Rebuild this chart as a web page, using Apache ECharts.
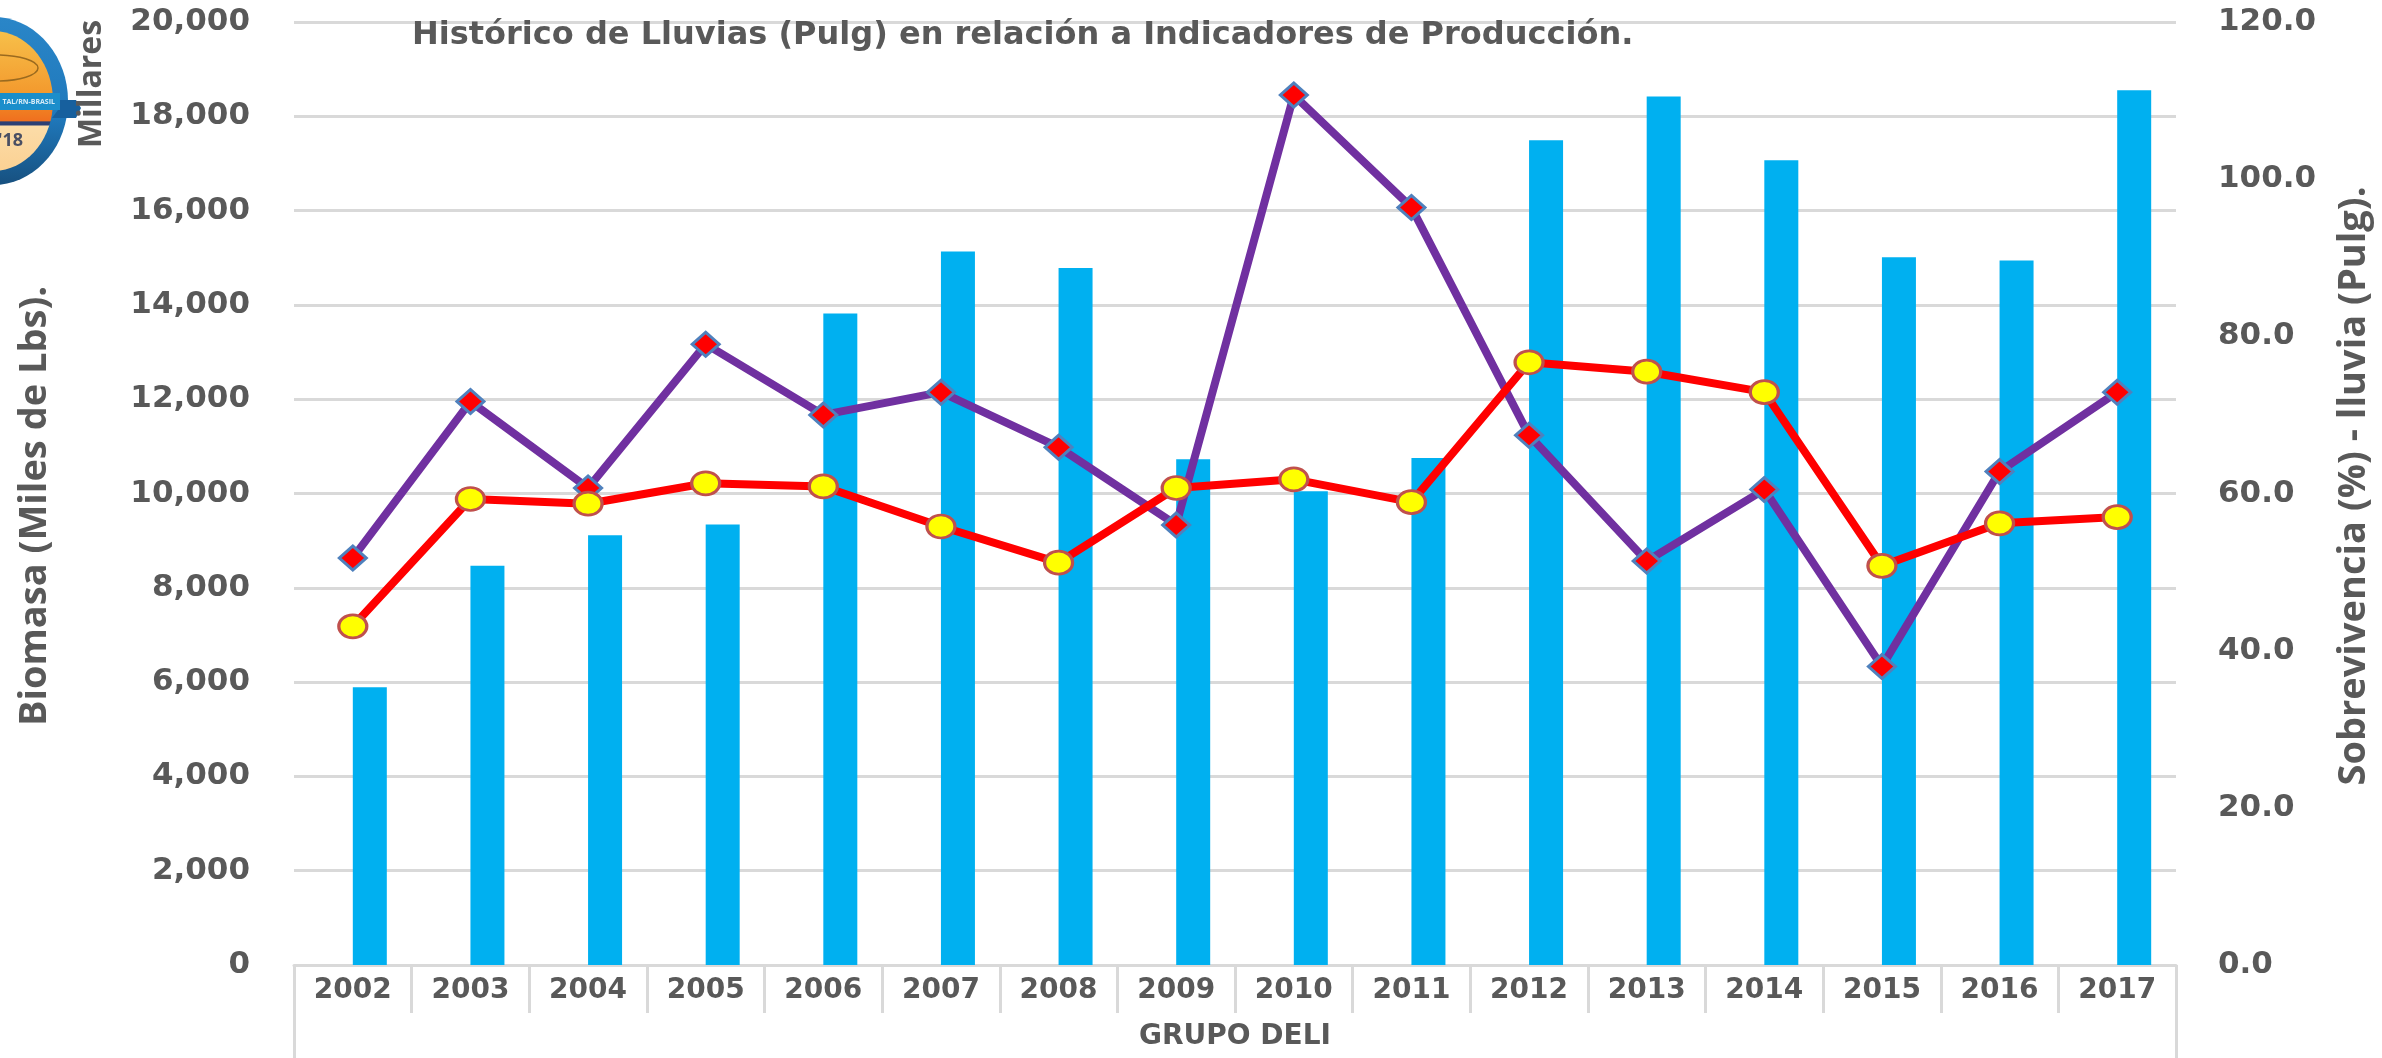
<!DOCTYPE html>
<html><head><meta charset="utf-8">
<style>html,body{margin:0;padding:0;background:#fff}#c{width:2382px;height:1058px}</style>
<script src="https://cdn.jsdelivr.net/npm/echarts@6/dist/echarts.min.js"></script>
</head><body><div id="c"></div>
<script>
const years=['2002','2003','2004','2005','2006','2007','2008','2009','2010','2011','2012','2013','2014','2015','2016','2017'];
const groupLabels=['GRUPO DELI'];
const biomasa=[5890,8470,9115,9340,13815,15135,14780,10725,10050,10755,17490,18420,17070,15010,14940,18550];
const sobrevivencia=[43.1,59.3,58.7,61.3,60.9,55.8,51.2,60.7,61.8,58.9,76.7,75.5,72.9,50.8,56.2,57.0];
const lluvia=[51.8,71.7,60.7,79.0,70.0,72.9,65.9,56.0,110.7,96.4,67.4,51.4,60.5,38.0,62.8,72.9];
const titleText='Histórico de Lluvias (Pulg) en relación a Indicadores de Producción.';
const gray='#595959', line='#d9d9d9';
const tickFont={color:gray,fontFamily:'DejaVu Sans',fontWeight:'bold',fontSize:31};
const narrow='"Liberation Sans Narrow","Open Sans"';
function vtext(t,x,y,size){return {type:'text',rotation:Math.PI/2,x,y,z:10,style:{text:t,fill:gray,font:'bold '+size+'px '+narrow,textAlign:'center',textVerticalAlign:'middle'}};}
const chart=echarts.init(document.getElementById('c'),null,{renderer:'canvas'});
chart.setOption({
 animation:false,backgroundColor:'#fff',
 title:{text:titleText,left:412,top:20,padding:0,textStyle:{color:gray,fontFamily:'DejaVu Sans',fontWeight:'bold',fontSize:32}},
 grid:{left:294,right:206,top:22,bottom:93,containLabel:false,outerBoundsMode:'none'},
 xAxis:[
  {type:'category',data:years,position:'bottom',axisLine:{lineStyle:{color:line,width:3}},
   axisTick:{show:true,interval:0,alignWithLabel:false,length:48,lineStyle:{color:line,width:3}},
   axisLabel:{...tickFont,fontSize:28,margin:12,interval:0}},
  {type:'category',data:groupLabels,position:'bottom',axisLine:{show:false},
   axisTick:{show:true,length:93,lineStyle:{color:line,width:3}},
   axisLabel:{color:gray,fontFamily:'DejaVu Sans',fontWeight:'bold',fontSize:28,margin:58}}
 ],
 yAxis:[
  {type:'value',min:0,max:20000,interval:2000,position:'left',
   axisLine:{show:false},axisTick:{show:false},
   axisLabel:{...tickFont,margin:44,formatter:v=>v.toLocaleString('en-US')},
   splitLine:{lineStyle:{color:line,width:3}}},
  {type:'value',min:0,max:120,interval:20,position:'right',
   axisLine:{show:false},axisTick:{show:false},splitLine:{show:false},
   axisLabel:{...tickFont,margin:42,formatter:v=>v.toFixed(1)}}
 ],
 graphic:[
  {type:'ellipse',shape:{cx:-7,cy:101,rx:75,ry:84},z:5,style:{fill:new echarts.graphic.LinearGradient(0,0,0,1,[{offset:0,color:'#2a86c8'},{offset:0.6,color:'#1f78bb'},{offset:1,color:'#17507f'}])}},
  {type:'ellipse',shape:{cx:-7,cy:101,rx:60,ry:70},z:6,style:{fill:new echarts.graphic.LinearGradient(0,0,0,1,[
    {offset:0,color:'#f7c04a'},{offset:0.44,color:'#f39a2e'},{offset:0.56,color:'#f07f22'},{offset:0.64,color:'#f0701f'},
    {offset:0.65,color:'#2c3f74'},{offset:0.67,color:'#2c3f74'},{offset:0.68,color:'#fcdca8'},{offset:1,color:'#fbd193'}])}},
  {type:'ellipse',shape:{cx:-4,cy:68,rx:42,ry:13},z:7,style:{fill:'none',stroke:'#9a6a1f',lineWidth:1.5}},
  {type:'rect',shape:{x:0,y:93,width:60,height:17},z:8,style:{fill:'#1b8ecb'}},
  {type:'polygon',shape:{points:[[58,100],[76,100],[81,108],[76,118],[52,118],[58,110]]},z:7,style:{fill:'#17609e'}},
  {type:'text',x:55,y:102,z:9,style:{text:'TAL/RN-BRASIL',fill:'#d7ecf8',font:'bold 7px "Open Sans"',textAlign:'right',textVerticalAlign:'middle'}},
  {type:'text',x:23,y:141,z:9,style:{text:"'18",fill:'#4a4f63',font:'bold 18px "Open Sans"',textAlign:'right',textVerticalAlign:'middle'}},
  vtext('Millares',92,84,32),
  vtext('Biomasa (Miles de Lbs).',35,506,38),
  vtext('Sobrevivencia (%) - lluvia (Pulg).',2354,486,38)
 ],
 series:[
  {type:'bar',name:'_',data:[],barWidth:34,barGap:0,silent:true},
  {type:'bar',name:'Biomasa',data:biomasa,barWidth:34,barGap:0,itemStyle:{color:'#00b0f0'}},
  {type:'line',name:'Lluvia',yAxisIndex:1,data:lluvia,symbol:'diamond',symbolSize:[27,24],z:3,
   lineStyle:{color:'#7030a0',width:8},itemStyle:{color:'#ff0000',borderColor:'#4f81bd',borderWidth:3}},
  {type:'line',name:'Sobrevivencia',yAxisIndex:1,data:sobrevivencia,symbol:'circle',symbolSize:[28,23],z:4,
   lineStyle:{color:'#ff0000',width:8},itemStyle:{color:'#ffff00',borderColor:'#c0504d',borderWidth:3}}
 ]
});
</script></body></html>
